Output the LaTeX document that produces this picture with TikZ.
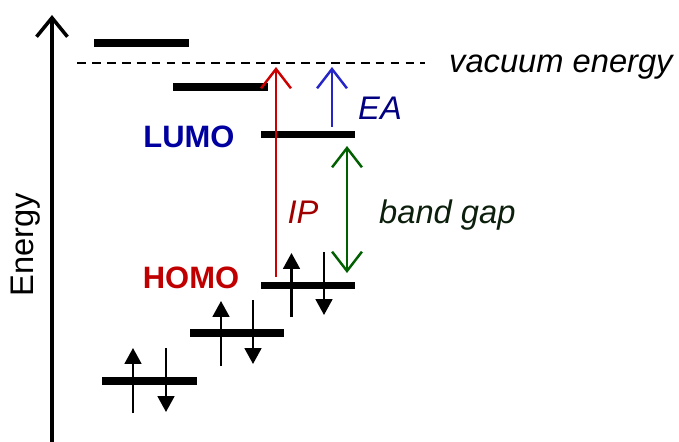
\documentclass[tikz,border=0pt]{standalone}
\usepackage{fontspec}
\setmainfont{Liberation Sans}
\usepackage{xcolor}
\usepackage{tikz}
\usetikzlibrary{arrows.meta,calc}
\definecolor{lvlred}{HTML}{C00000}
\definecolor{iparrowred}{HTML}{CC0000}
\definecolor{iptext}{HTML}{A00000}
\definecolor{lvlblue}{HTML}{0000A0}
\definecolor{eaarrow}{HTML}{2626C8}
\definecolor{eatext}{HTML}{000080}
\definecolor{gapgreen}{HTML}{006000}
\definecolor{gaptext}{HTML}{0C1E0C}

\tikzset{
  level/.style={line width=4.5pt, black},
  spinup/.style={line width=1.3pt, -{Triangle[length=9pt,width=9.5pt]}},
  transition/.style={line width=1.4pt, -{Straight Barb[length=11pt,width=17pt]}},
  bigtext/.style={font=\fontsize{18.6}{21}\selectfont},
  orbtext/.style={font=\bfseries\fontsize{17.6}{20}\selectfont},
}

\begin{document}
\begin{tikzpicture}[x=0.02cm,y=-0.02cm]
  \useasboundingbox (0,0) rectangle (679,442);

  % energy axis
  \coordinate (axbot) at (52,442);
  \coordinate (axtop) at (52,15);
  \draw[line width=2pt, -{Straight Barb[length=10.8pt,width=17.6pt]}] (axbot) -- (axtop);
  \node[bigtext, rotate=90, anchor=base] (energy) at (33,245) {Energy};

  % vacuum level
  \coordinate (vacl) at (77,63);
  \coordinate (vacr) at (425,63);
  \draw[line width=0.6pt, dash pattern=on 5pt off 3.5pt] (vacl) -- (vacr);
  \node[bigtext, anchor=base west] (vac) at (443,73) {\itshape vacuum energy};

  % empty levels
  \draw[level] (94,43) -- (189,43);
  \draw[level] (173,87) -- (268,87);
  \draw[level] (261,134.5) -- (355,134.5);
  \node[orbtext, text=lvlblue, anchor=base] (lumo) at (189,148) {LUMO};

  % filled levels
  \draw[level] (261,285.5) -- (355,285.5);
  \draw[level] (190,333) -- (284,333);
  \draw[level] (102,381) -- (197,381);
  \node[orbtext, text=lvlred, anchor=base] (homo) at (191,288) {HOMO};

  % electrons
  \coordinate (u1a) at (291.5,317); \coordinate (u1b) at (291.5,253);
  \coordinate (d1a) at (324,252);   \coordinate (d1b) at (324,315);
  \coordinate (u2a) at (221,366);   \coordinate (u2b) at (221,301);
  \coordinate (d2a) at (253,300);   \coordinate (d2b) at (253,364);
  \coordinate (u3a) at (133,413);   \coordinate (u3b) at (133,348);
  \coordinate (d3a) at (166,348);   \coordinate (d3b) at (166,412);
  \draw[spinup] (u1a) -- (u1b);
  \draw[spinup] (d1a) -- (d1b);
  \draw[spinup] (u2a) -- (u2b);
  \draw[spinup] (d2a) -- (d2b);
  \draw[spinup] (u3a) -- (u3b);
  \draw[spinup] (d3a) -- (d3b);

  % ionisation potential
  \coordinate (ipbot) at (276,277);
  \coordinate (iptop) at (276,67);
  \draw[transition, iparrowred] (ipbot) -- (iptop);
  \node[bigtext, text=iptext, anchor=base] (ip) at (303,223) {\itshape IP};

  % electron affinity
  \coordinate (eabot) at (332,127);
  \coordinate (eatop) at (332,67);
  \draw[transition, eaarrow] (eabot) -- (eatop);
  \node[bigtext, text=eatext, anchor=base] (ea) at (380,120) {\itshape EA};

  % band gap
  \coordinate (gaptop) at (347,146);
  \coordinate (gapbot) at (347,273);
  \draw[transition, gapgreen, {Straight Barb[length=11pt,width=17pt]}-{Straight Barb[length=11pt,width=17pt]}] (gaptop) -- (gapbot);
  \node[bigtext, text=gaptext, anchor=base west] (gap) at (373,223) {\itshape band gap};
\end{tikzpicture}
\end{document}
